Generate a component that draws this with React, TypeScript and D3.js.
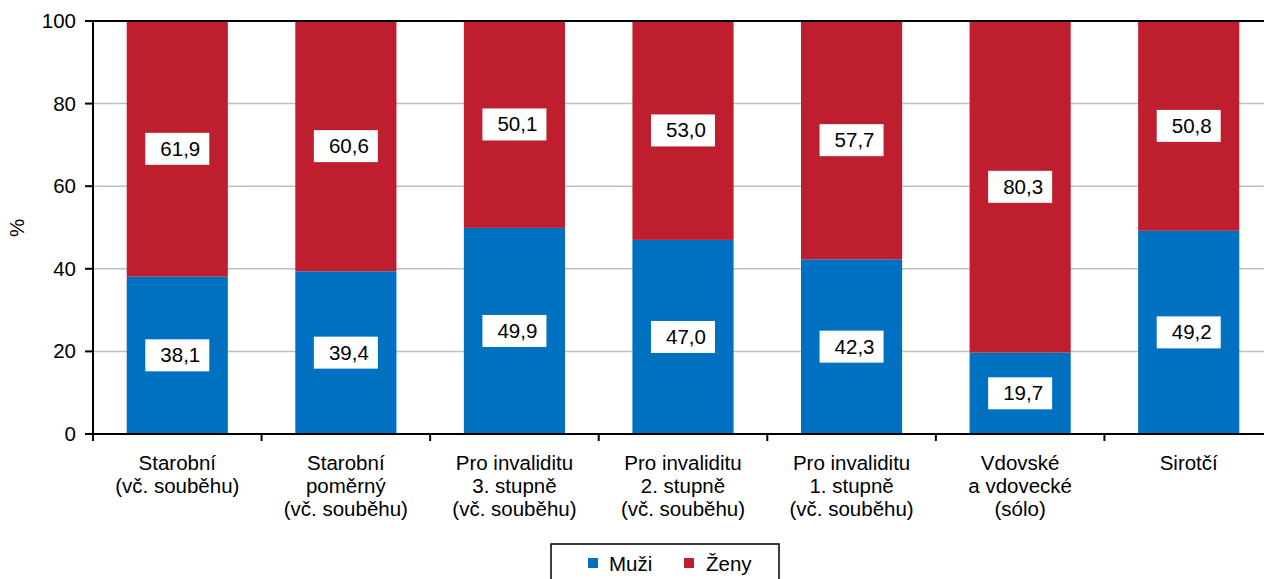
import React from 'react';
import * as d3 from 'd3';

const categories: string[][] = [
  ['Starobní', '(vč. souběhu)'],
  ['Starobní', 'poměrný', '(vč. souběhu)'],
  ['Pro invaliditu', '3. stupně', '(vč. souběhu)'],
  ['Pro invaliditu', '2. stupně', '(vč. souběhu)'],
  ['Pro invaliditu', '1. stupně', '(vč. souběhu)'],
  ['Vdovské', 'a vdovecké', '(sólo)'],
  ['Sirotčí'],
];
const muzi = [38.1, 39.4, 49.9, 47.0, 42.3, 19.7, 49.2];
const zeny = [61.9, 60.6, 50.1, 53.0, 57.7, 80.3, 50.8];
const yTicks = [0, 20, 40, 60, 80, 100];
const seriesNames = ['Muži', 'Ženy'];
const colors = ['#0070c0', '#be1e2d'];

const W = 1264;
const H = 579;
const left = 93;
const right = 1273;
const top = 21;
const bottom = 434;
const font = 'Liberation Sans, Arial, sans-serif';

const fmt = (v: number) => v.toFixed(1).replace('.', ',');

export default function App() {
  const idx = categories.map((_, i) => i);
  const x = d3.scaleBand<number>().domain(idx).range([left, right]).paddingInner(0.4).paddingOuter(0.2);
  const y = d3.scaleLinear().domain([0, 100]).range([bottom, top]);
  const step = x.step();

  const stack = d3.stack<number>().keys(['0', '1']).value((i, k) => (k === '0' ? muzi[i] : zeny[i]));
  const layers = stack(idx);

  return (
    <div style={{ position: 'absolute', left: 0, top: 0 }}>
      <svg width={W} height={H} style={{ display: 'block', background: '#fff' }}>
        {/* gridlines */}
        {yTicks.filter(t => t > 0 && t < 100).map(t => (
          <line key={t} x1={left} x2={W} y1={y(t)} y2={y(t)} stroke="#c0c0c0" strokeWidth={1.5} />
        ))}
        {/* bars */}
        {layers.map((layer, si) => (
          <g key={si} fill={colors[si]}>
            {layer.map((d, i) => (
              <rect key={i} x={x(i)} width={x.bandwidth()} y={y(d[1])} height={y(d[0]) - y(d[1])} />
            ))}
          </g>
        ))}
        {/* value labels */}
        {layers.map((layer, si) => (
          <g key={'l' + si}>
            {layer.map((d, i) => {
              const cx = (x(i) as number) + x.bandwidth() / 2;
              const cy = y((d[0] + d[1]) / 2);
              const v = si === 0 ? muzi[i] : zeny[i];
              return (
                <g key={i}>
                  <rect x={cx - 32} y={cy - 16} width={64} height={32} fill="#fff" />
                  <text x={cx + 3} y={cy + 7} textAnchor="middle" fontFamily={font} fontSize={20.5} fill="#000">
                    {fmt(v)}
                  </text>
                </g>
              );
            })}
          </g>
        ))}
        {/* top border */}
        <line x1={left} x2={W} y1={top} y2={top} stroke="#000" strokeWidth={2} />
        {/* y axis */}
        <line x1={left} x2={left} y1={top} y2={bottom + 7} stroke="#000" strokeWidth={2} />
        {yTicks.map(t => (
          <g key={t}>
            <line x1={left - 8} x2={left} y1={y(t)} y2={y(t)} stroke="#000" strokeWidth={2} />
            <text x={76} y={y(t) + 7} textAnchor="end" fontFamily={font} fontSize={20.5} fill="#000">
              {t}
            </text>
          </g>
        ))}
        {/* x axis */}
        <line x1={left - 8} x2={W} y1={bottom} y2={bottom} stroke="#000" strokeWidth={2} />
        {idx.map(i => (
          <line key={i} x1={left + step * (i + 1)} x2={left + step * (i + 1)} y1={bottom} y2={bottom + 7} stroke="#000" strokeWidth={2} />
        ))}
        {categories.map((lines, i) => (
          <text key={i} textAnchor="middle" fontFamily={font} fontSize={20.5} fill="#000">
            {lines.map((ln, j) => (
              <tspan key={j} x={(x(i) as number) + x.bandwidth() / 2} y={470 + j * 23}>
                {ln}
              </tspan>
            ))}
          </text>
        ))}
        {/* y label */}
        <text transform="translate(24,228) rotate(-90)" textAnchor="middle" fontFamily={font} fontSize={20.5} fill="#000">
          %
        </text>
        {/* legend */}
        <rect x={551} y={544} width={228} height={40} fill="#fff" stroke="#000" strokeWidth={1.5} />
        {seriesNames.map((s, i) => (
          <g key={s}>
            <rect x={588 + i * 96} y={558} width={10} height={10} fill={colors[i]} />
            <text x={609 + i * 97} y={571} fontFamily={font} fontSize={20.5} fill="#000">
              {s}
            </text>
          </g>
        ))}
      </svg>
    </div>
  );
}
